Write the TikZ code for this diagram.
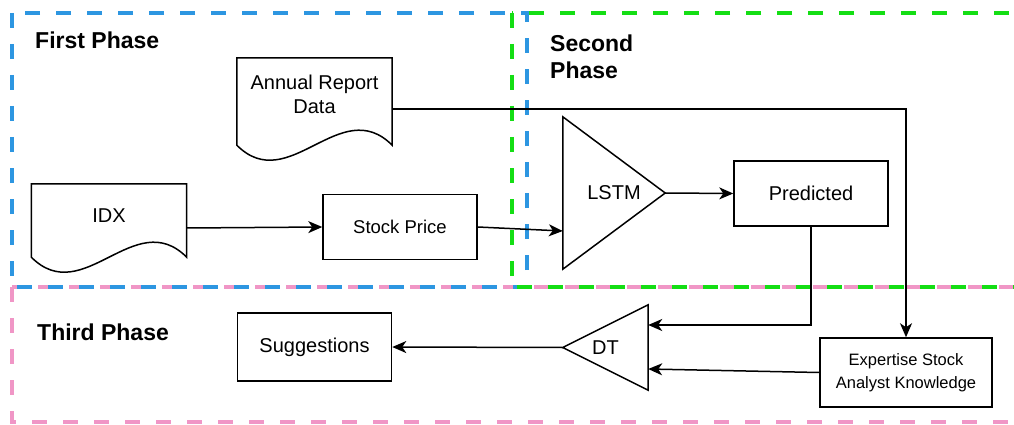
\documentclass[tikz,border=0pt]{standalone}
\usepackage{fontspec}
\setmainfont{Liberation Sans}
\usetikzlibrary{arrows.meta}

\definecolor{phaseblue}{RGB}{45,150,225}
\definecolor{phasegreen}{RGB}{20,222,20}
\definecolor{phasepink}{RGB}{240,150,198}

\begin{document}
\begin{tikzpicture}[x=1pt,y=-1pt,
    phase/.style={line width=4pt,dash pattern=on 15pt off 16pt},
    title/.style={anchor=west,inner sep=0pt,align=left,font=\fontsize{23}{27}\selectfont\bfseries},
    box/.style={draw,line width=1.5pt,minimum width=154pt,minimum height=65pt,font=\fontsize{20}{24}\selectfont},
    shell/.style={minimum width=155pt,inner sep=0pt},
    txt/.style={align=center,inner sep=0pt,font=\fontsize{20}{24}\selectfont},
    arr/.style={line width=1.5pt,-{Stealth[length=14pt,width=12pt,inset=4pt]}}]
  \path[use as bounding box] (0,0) rectangle (1014,425);
  \clip (0,0) rectangle (1014,425);

  % phases
  \draw[phase,phasepink] (12,287) rectangle (1060,422);
  \draw[phase,phaseblue] (12,13) rectangle (527,287);
  \draw[phase,phasegreen] (512,13) rectangle (1060,287);
  \node[title] (first) at (35,40) {First Phase};
  \node[title] (second) at (550,57) {Second\\Phase};
  \node[title] (third) at (37,332) {Third Phase};

  % documents
  \node[shell,minimum height=102pt] (annual) at (314.5,109) {};
  \draw[line width=1.5pt] (annual.north west) -- (annual.north east) -- ([yshift=15pt]annual.south east)
    .. controls +(-52,-52) and +(52,52) .. ([yshift=15pt]annual.south west) -- cycle;
  \node[txt] (annualtxt) at ([yshift=15pt]annual) {Annual Report\\Data};

  \node[shell,minimum height=88pt] (idx) at (109,228) {};
  \draw[line width=1.5pt] (idx.north west) -- (idx.north east) -- ([yshift=15pt]idx.south east)
    .. controls +(-52,-52) and +(52,52) .. ([yshift=15pt]idx.south west) -- cycle;
  \node[txt] (idxtxt) at ([yshift=12pt]idx) {IDX};

  % boxes
  \node[box,font=\fontsize{18.5}{22}\selectfont] (stock) at (400,227) {Stock Price};
  \node[box] (pred) at (811,193.5) {Predicted};
  \node[box,minimum height=68pt] (sugg) at (314.5,347) {Suggestions};
  \node[box,minimum width=172pt,minimum height=69pt,align=center,font=\fontsize{16.5}{23}\selectfont] (exp) at (906,372.5) {Expertise Stock\\Analyst Knowledge};

  % models
  \node[minimum width=102pt,minimum height=152pt,inner sep=0pt,font=\fontsize{20}{24}\selectfont] (lstm) at (614,193) {LSTM};
  \draw[line width=1.5pt] (lstm.north west) -- (lstm.east) -- (lstm.south west) -- cycle;
  \node[minimum width=85pt,minimum height=85pt,inner sep=0pt,font=\fontsize{20}{24}\selectfont] (dt) at (605.5,347.5) {DT};
  \draw[line width=1.5pt] (dt.north east) -- (dt.west) -- (dt.south east) -- cycle;

  % flow
  \draw[arr] (idx.east) -- (stock.west);
  \draw[arr] (stock.east) -- ([yshift=-38pt]lstm.west);
  \draw[arr] (lstm.east) -- (pred.west);
  \draw[arr] (annual.east) -| (exp.north);
  \draw[arr] (pred.south) |- ([yshift=22.5pt]dt.east);
  \draw[arr] (exp.west) -- ([yshift=-21.5pt]dt.east);
  \draw[arr] (dt.west) -- (sugg.east);
\end{tikzpicture}
\end{document}
